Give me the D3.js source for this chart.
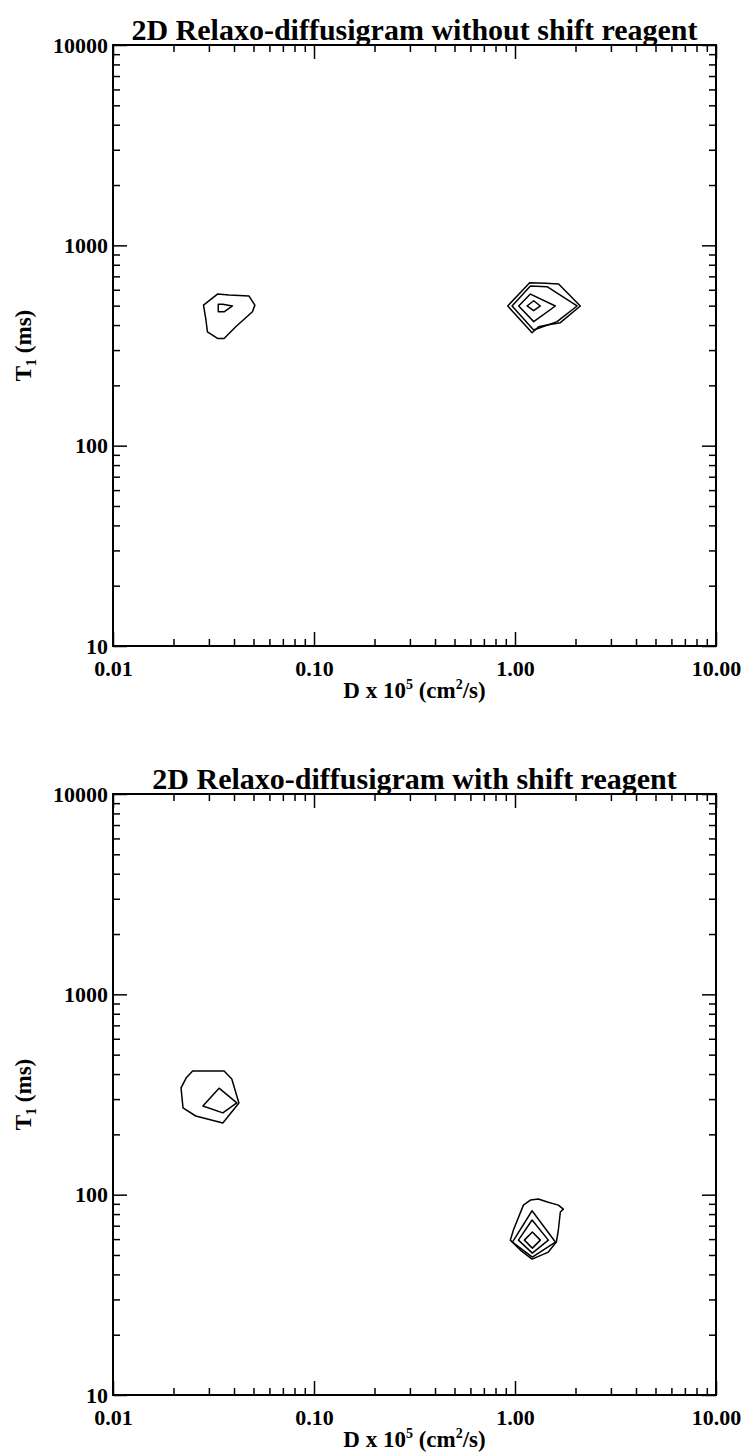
<!DOCTYPE html>
<html>
<head>
<meta charset="utf-8">
<script src="https://cdn.jsdelivr.net/npm/d3@7"></script>
<style>
  body { margin: 0; background: #fff; }
  svg { display: block; }
  text { font-family: "Liberation Serif", "Times New Roman", serif; font-weight: bold; fill: #000; }
</style>
</head>
<body>
<svg id="chart" width="745" height="1454"></svg>
<script>
// Panel titles
const panelTitles = [
  "2D Relaxo-diffusigram without shift reagent",
  "2D Relaxo-diffusigram with shift reagent"
];

// Axis ticks (log decades)
const xTickValues = [0.01, 0.1, 1, 10];
const xTickLabels = ["0.01", "0.10", "1.00", "10.00"];
const yTickValues = [10, 100, 1000, 10000];
const yTickLabels = ["10", "100", "1000", "10000"];

// Contour rings, [D x 1e5 (cm^2/s), T1 (ms)]
// Panel 1: without shift reagent
const noShiftSlowOuter = [[0.0282,503],[0.0331,571],[0.0378,565],[0.0475,558],[0.0508,503],[0.0494,466],[0.0408,392],[0.0357,343],[0.0331,343],[0.0295,370],[0.0290,424]];
const noShiftSlowInner = [[0.0334,508],[0.0334,466],[0.0357,466],[0.0393,498],[0.0351,508]];
const noShiftFastLevel1 = [[0.920,498],[1.183,651],[1.416,646],[1.648,641],[2.113,498],[1.681,411],[1.444,400],[1.311,392],[1.216,366]];
const noShiftFastLevel2 = [[0.967,498],[1.193,626],[1.444,622],[2.035,498],[1.619,416],[1.239,378]];
const noShiftFastLevel3 = [[1.043,498],[1.193,571],[1.588,498],[1.239,416]];
const noShiftFastLevel4 = [[1.148,498],[1.239,529],[1.337,498],[1.239,472]];

// Panel 2: with shift reagent
const shiftSlowOuter = [[0.0249,414],[0.0357,414],[0.0390,378],[0.0423,287],[0.0352,228],[0.0258,247],[0.0223,271],[0.0218,341],[0.0231,382]];
const shiftSlowInner = [[0.0280,277],[0.0337,340],[0.0413,287],[0.0352,256]];
const shiftFastLevel1 = [[1.193,94.0],[1.307,95.1],[1.449,91.9],[1.643,88.7],[1.740,84.7],[1.681,81.9],[1.643,66.6],[1.606,58.0],[1.465,51.7],[1.216,47.7],[1.063,52.9],[0.948,59.3],[0.982,66.6],[1.101,88.7]];
const shiftFastLevel2 = [[1.216,83.1],[1.588,58.0],[1.220,48.8],[0.971,58.0]];
const shiftFastLevel3 = [[1.216,74.7],[1.465,59.3],[1.220,51.1],[1.040,59.3]];
const shiftFastLevel4 = [[1.220,65.1],[1.337,59.3],[1.220,54.1],[1.113,59.3]];

const panelContours = [
  [noShiftSlowOuter, noShiftSlowInner, noShiftFastLevel1, noShiftFastLevel2, noShiftFastLevel3, noShiftFastLevel4],
  [shiftSlowOuter, shiftSlowInner, shiftFastLevel1, shiftFastLevel2, shiftFastLevel3, shiftFastLevel4]
];

// Layout
const plotLeft = 113, plotRight = 716, plotH = 601;
const panelTops = [45, 794];
const majorLen = 14, minorLen = 7;

const svg = d3.select("#chart");
const x = d3.scaleLog().domain([0.01, 10]).range([plotLeft, plotRight]);

// minor ticks at 2..9 within each decade
function minorTicks(decades) {
  const out = [];
  decades.slice(0, -1).forEach(d => { for (let k = 2; k <= 9; k++) out.push(d * k); });
  return out;
}
const xMinor = minorTicks(xTickValues);
const yMinor = minorTicks(yTickValues);

function styleAxis(g, fontSize) {
  g.select(".domain").remove();
  g.selectAll(".tick line").attr("stroke", "#000").attr("stroke-width", 1.5);
  g.selectAll(".tick text").attr("font-size", fontSize)
    .attr("font-family", '"Liberation Serif", "Times New Roman", serif')
    .attr("font-weight", "bold").attr("fill", "#000");
}

panelContours.forEach((contours, i) => {
  const top = panelTops[i], bottom = top + plotH;
  const y = d3.scaleLog().domain([10, 10000]).range([bottom, top]);
  const g = svg.append("g");

  // minor ticks on all four sides
  g.append("g").attr("transform", `translate(0,${bottom})`)
    .call(d3.axisBottom(x).tickValues(xMinor).tickSize(-minorLen).tickFormat(""))
    .call(styleAxis, 22);
  g.append("g").attr("transform", `translate(0,${top})`)
    .call(d3.axisTop(x).tickValues(xMinor).tickSize(-minorLen).tickFormat(""))
    .call(styleAxis, 22);
  g.append("g").attr("transform", `translate(${plotLeft},0)`)
    .call(d3.axisLeft(y).tickValues(yMinor).tickSize(-minorLen).tickFormat(""))
    .call(styleAxis, 22);
  g.append("g").attr("transform", `translate(${plotRight},0)`)
    .call(d3.axisRight(y).tickValues(yMinor).tickSize(-minorLen).tickFormat(""))
    .call(styleAxis, 22);

  // major ticks with labels on bottom and left
  g.append("g").attr("transform", `translate(0,${bottom})`)
    .call(d3.axisBottom(x).tickValues(xTickValues).tickSize(-majorLen).tickPadding(14)
      .tickFormat((d, k) => xTickLabels[k]))
    .call(styleAxis, 22);
  g.append("g").attr("transform", `translate(0,${top})`)
    .call(d3.axisTop(x).tickValues(xTickValues).tickSize(-majorLen).tickFormat(""))
    .call(styleAxis, 22);
  g.append("g").attr("transform", `translate(${plotLeft},0)`)
    .call(d3.axisLeft(y).tickValues(yTickValues).tickSize(-majorLen).tickPadding(5)
      .tickFormat((d, k) => yTickLabels[k]))
    .call(styleAxis, 22);
  g.append("g").attr("transform", `translate(${plotRight},0)`)
    .call(d3.axisRight(y).tickValues(yTickValues).tickSize(-majorLen).tickFormat(""))
    .call(styleAxis, 22);

  // frame
  g.append("rect")
    .attr("x", plotLeft).attr("y", top)
    .attr("width", plotRight - plotLeft).attr("height", bottom - top)
    .attr("fill", "none").attr("stroke", "#000").attr("stroke-width", 2);

  // contour rings
  const ring = d3.line().x(d => x(d[0])).y(d => y(d[1])).curve(d3.curveLinearClosed);
  g.selectAll("path.contour").data(contours).join("path")
    .attr("class", "contour")
    .attr("d", ring)
    .attr("fill", "none").attr("stroke", "#000").attr("stroke-width", 1.5)
    .attr("stroke-linejoin", "round");

  // panel title
  g.append("text")
    .attr("x", (plotLeft + plotRight) / 2).attr("y", top - 5)
    .attr("text-anchor", "middle").attr("font-size", 30)
    .text(panelTitles[i]);

  // x axis title: D x 10^5 (cm^2/s)
  const xt = g.append("text")
    .attr("x", (plotLeft + plotRight) / 2).attr("y", bottom + 52)
    .attr("text-anchor", "middle").attr("font-size", 23);
  xt.append("tspan").text("D x 10");
  xt.append("tspan").attr("font-size", 14).attr("dy", -9).text("5");
  xt.append("tspan").attr("dy", 9).text(" (cm");
  xt.append("tspan").attr("font-size", 14).attr("dy", -9).text("2");
  xt.append("tspan").attr("dy", 9).text("/s)");

  // y axis title: T1 (ms)
  const yt = g.append("text")
    .attr("transform", `translate(31,${(top + bottom) / 2}) rotate(-90)`)
    .attr("text-anchor", "middle").attr("font-size", 23);
  yt.append("tspan").text("T");
  yt.append("tspan").attr("font-size", 14).attr("dy", 5).text("1");
  yt.append("tspan").attr("dy", -5).text(" (ms)");
});
</script>
</body>
</html>
